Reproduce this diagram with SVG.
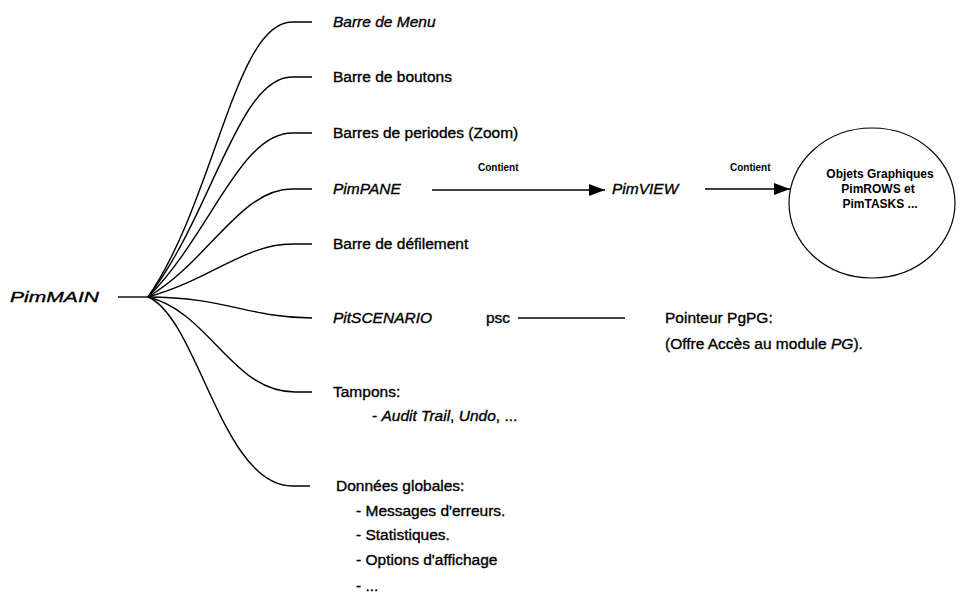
<svg xmlns="http://www.w3.org/2000/svg" width="959" height="605" viewBox="0 0 959 605">
<style>
text{font-family:"Liberation Sans",Arial,sans-serif;fill:#000;stroke:#000;stroke-width:0.35}
.t{font-size:15.5px}
.i{font-style:italic}
.s{font-size:10px;font-weight:bold;stroke-width:0}
.c{font-size:12px;font-weight:bold;text-anchor:middle;stroke-width:0}
.br{fill:none;stroke:#000;stroke-width:1.4}
.ln{fill:none;stroke:#000;stroke-width:1.4}
</style>
<defs>
<marker id="ah" viewBox="0 0 16 12" refX="16" refY="6" markerWidth="16" markerHeight="12" markerUnits="userSpaceOnUse" orient="auto">
<path d="M0,0 L16,6 L0,12 z" fill="#000"/>
</marker>
</defs>
<g id="connectors">
<path class="ln" d="M118,297 H150" stroke-width="2.6"/>
<path class="br" d="M148,297 C215,200 235,22 292,22 H312"/>
<path class="br" d="M148,297 C212,215 238,77 292,77 H312"/>
<path class="br" d="M148,297 C210,235 240,133 292,133 H312"/>
<path class="br" d="M148,297 C208,262 240,189 292,189 H312"/>
<path class="br" d="M148,297 C210,280 245,244 292,244 H312"/>
<path class="br" d="M148,297 C225,297 250,318 312,318"/>
<path class="br" d="M148,297 C210,312 232,392 295,392 H312"/>
<path class="br" d="M148,297 C198,318 222,486 292,486 H310"/>
<path class="ln" d="M432,190 H605" marker-end="url(#ah)"/>
<path class="ln" d="M705,189 H790" marker-end="url(#ah)"/>
<path class="ln" d="M518,318 H625"/>
</g>
<g id="PimMAIN"><text class="t i" x="10" y="302" textLength="89" lengthAdjust="spacingAndGlyphs">PimMAIN</text></g>
<g id="BarreMenu"><text class="t i" x="333" y="27">Barre de Menu</text></g>
<g id="BarreBoutons"><text class="t" x="333" y="82">Barre de boutons</text></g>
<g id="BarresPeriodes"><text class="t" x="333" y="138">Barres de periodes (Zoom)</text></g>
<g id="PimPANE"><text class="t i" x="333" y="194">PimPANE</text></g>
<g id="label1"><text class="s" x="478" y="171">Contient</text></g>
<g id="PimVIEW"><text class="t i" x="612" y="194">PimVIEW</text></g>
<g id="label2"><text class="s" x="730" y="171">Contient</text></g>
<g id="Objets">
<ellipse cx="872" cy="203" rx="83" ry="75" fill="none" stroke="#000" stroke-width="1.2"/>
<text class="c" x="880" y="178">Objets Graphiques</text>
<text class="c" x="878" y="193">PimROWS et</text>
<text class="c" x="880" y="208">PimTASKS ...</text>
</g>
<g id="BarreDefilement"><text class="t" x="333" y="249">Barre de défilement</text></g>
<g id="PitSCENARIO"><text class="t" x="333" y="323"><tspan class="i">PitSCENARIO</tspan><tspan x="486">psc</tspan></text></g>
<g id="Pointeur">
<text class="t" x="665" y="323">Pointeur PgPG:</text>
<text class="t" x="665" y="349">(Offre Accès au module <tspan class="i">PG</tspan>).</text>
</g>
<g id="Tampons">
<text class="t" x="333" y="397">Tampons:</text>
<text class="t" x="372" y="421">- <tspan class="i">Audit Trail</tspan>, <tspan class="i">Undo</tspan>, ...</text>
</g>
<g id="Donnees">
<text class="t" x="336" y="491">Données globales:</text>
<text class="t" x="356" y="516">- Messages d'erreurs.</text>
<text class="t" x="356" y="540">- Statistiques.</text>
<text class="t" x="356" y="565">- Options d'affichage</text>
<text class="t" x="356" y="591">- ...</text>
</g>
</svg>
